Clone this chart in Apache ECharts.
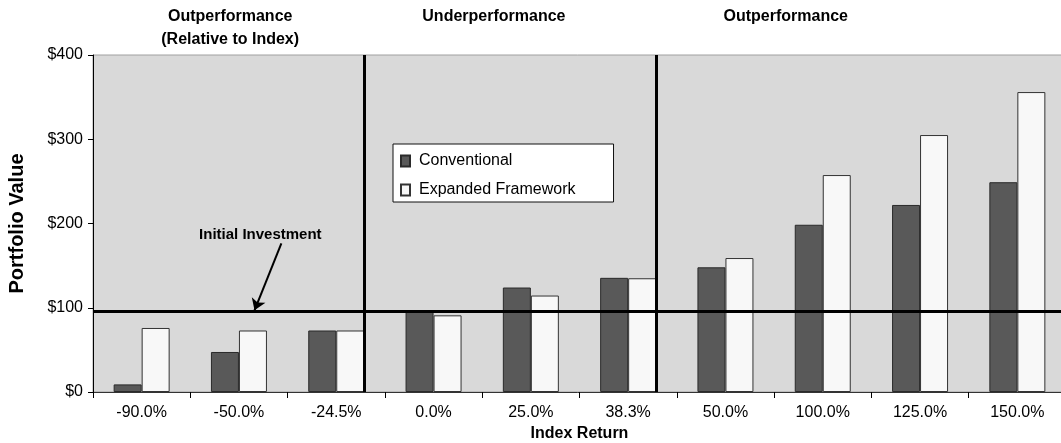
<!DOCTYPE html>
<html><head><meta charset="utf-8">
<script src="https://cdn.jsdelivr.net/npm/echarts@6/dist/echarts.min.js"></script>
<style>html,body{margin:0;padding:0;background:#fff}#c{width:1061px;height:443px}</style>
</head><body><div id="c"></div>
<script>
const categories = ['-90.0%','-50.0%','-24.5%','0.0%','25.0%','38.3%','50.0%','100.0%','125.0%','150.0%'];
const conventional = [9, 47.5, 73, 96, 124, 135.5, 148, 198.5, 222, 249];
const expanded = [76, 73, 73, 91, 114.5, 135, 159, 257.5, 305, 356];
const yTicks = [0, 100, 200, 300, 400];
const initialInvestment = 96;
const dividers = [2.79, 5.79];
const sectionTitles = [
  {x: 1.41, lines: ['Outperformance', '(Relative to Index)']},
  {x: 4.12, lines: ['Underperformance']},
  {x: 7.12, lines: ['Outperformance']}
];

const FONT = '"Liberation Sans", Arial, Helvetica, sans-serif';
const chart = echarts.init(document.getElementById('c'));
const option = {
  animation: false,
  textStyle: {fontFamily: FONT},
  grid: {left: 93, top: 55, width: 973, bottom: 51, containLabel: false, outerBoundsMode: 'none',
         show: true, backgroundColor: '#d9d9d9', borderColor: '#a0a0a0', borderWidth: 1},
  legend: {
    orient: 'vertical', left: 393, top: 144,
    data: ['Conventional', 'Expanded Framework'],
    icon: 'rect',
    itemWidth: 9, itemHeight: 11, itemGap: 13,
    backgroundColor: '#fff', borderColor: '#111', borderWidth: 1,
    padding: [9, 38, 4, 7],
    textStyle: {fontFamily: FONT, fontSize: 16, color: '#000', padding: [0, 0, 0, 4]}
  },
  xAxis: [{
    type: 'category', data: categories,
    axisLine: {lineStyle: {color: '#333', width: 1}},
    axisTick: {show: true, length: 6, lineStyle: {color: '#000'}},
    axisLabel: {fontFamily: FONT, fontSize: 16, color: '#000', margin: 13},
    name: 'Index Return', nameLocation: 'middle', nameGap: 33,
    nameTextStyle: {fontFamily: FONT, fontSize: 16, fontWeight: 'bold', color: '#000'}
  }, {
    type: 'value', min: 0, max: 10, show: false
  }],
  yAxis: {
    type: 'value', min: yTicks[0], max: yTicks[yTicks.length - 1], interval: 100,
    axisLine: {show: true, lineStyle: {color: '#000'}},
    axisTick: {show: true, length: 5, lineStyle: {color: '#000'}},
    splitLine: {show: false},
    axisLabel: {fontFamily: FONT, fontSize: 16, color: '#000', margin: 10, formatter: v => '$' + v},
    name: 'Portfolio Value', nameLocation: 'middle', nameGap: 66, nameRotate: 90,
    nameTextStyle: {fontFamily: FONT, fontSize: 20, fontWeight: 'bold', color: '#000'}
  },
  series: [
    {name: 'Conventional', type: 'bar', data: conventional, barWidth: 28, barGap: '0%',
     itemStyle: {color: '#595959', borderColor: '#2a2a2a', borderWidth: 1}},
    {name: 'Expanded Framework', type: 'bar', data: expanded, barWidth: 28,
     itemStyle: {color: '#f8f8f8', borderColor: '#333', borderWidth: 1}},
    {name: 'annot', type: 'line', xAxisIndex: 1, yAxisIndex: 0, data: [], z: 10,
     markLine: {
       silent: true, symbol: ['none', 'none'], animation: false,
       label: {show: false},
       lineStyle: {color: '#000', width: 3, type: 'solid'},
       data: [
         {yAxis: initialInvestment},
         {xAxis: dividers[0]},
         {xAxis: dividers[1]},
         [{coord: [1.936, 176.5], symbol: 'none', lineStyle: {width: 2}},
          {coord: [1.66, initialInvestment + 1], symbol: 'arrow', symbolSize: 11}]
       ]
     },
     markPoint: {
       silent: true, symbol: 'circle', symbolSize: 0,
       label: {show: true, formatter: 'Initial Investment', fontFamily: FONT, fontSize: 15, fontWeight: 'bold', color: '#000'},
       data: [{coord: [1.72, 186]}]
     }
    }
  ]
};
chart.setOption(option);

const graphics = [];
sectionTitles.forEach(t => {
  const px = chart.convertToPixel({xAxisIndex: 1}, t.x);
  graphics.push({type: 'text', x: px, y: 5, style: {
    text: t.lines.join('\n'), fontFamily: FONT, fontSize: 16, fontWeight: 'bold',
    fill: '#000', align: 'center', lineHeight: 23
  }});
});
chart.setOption({graphic: graphics});
</script></body></html>
